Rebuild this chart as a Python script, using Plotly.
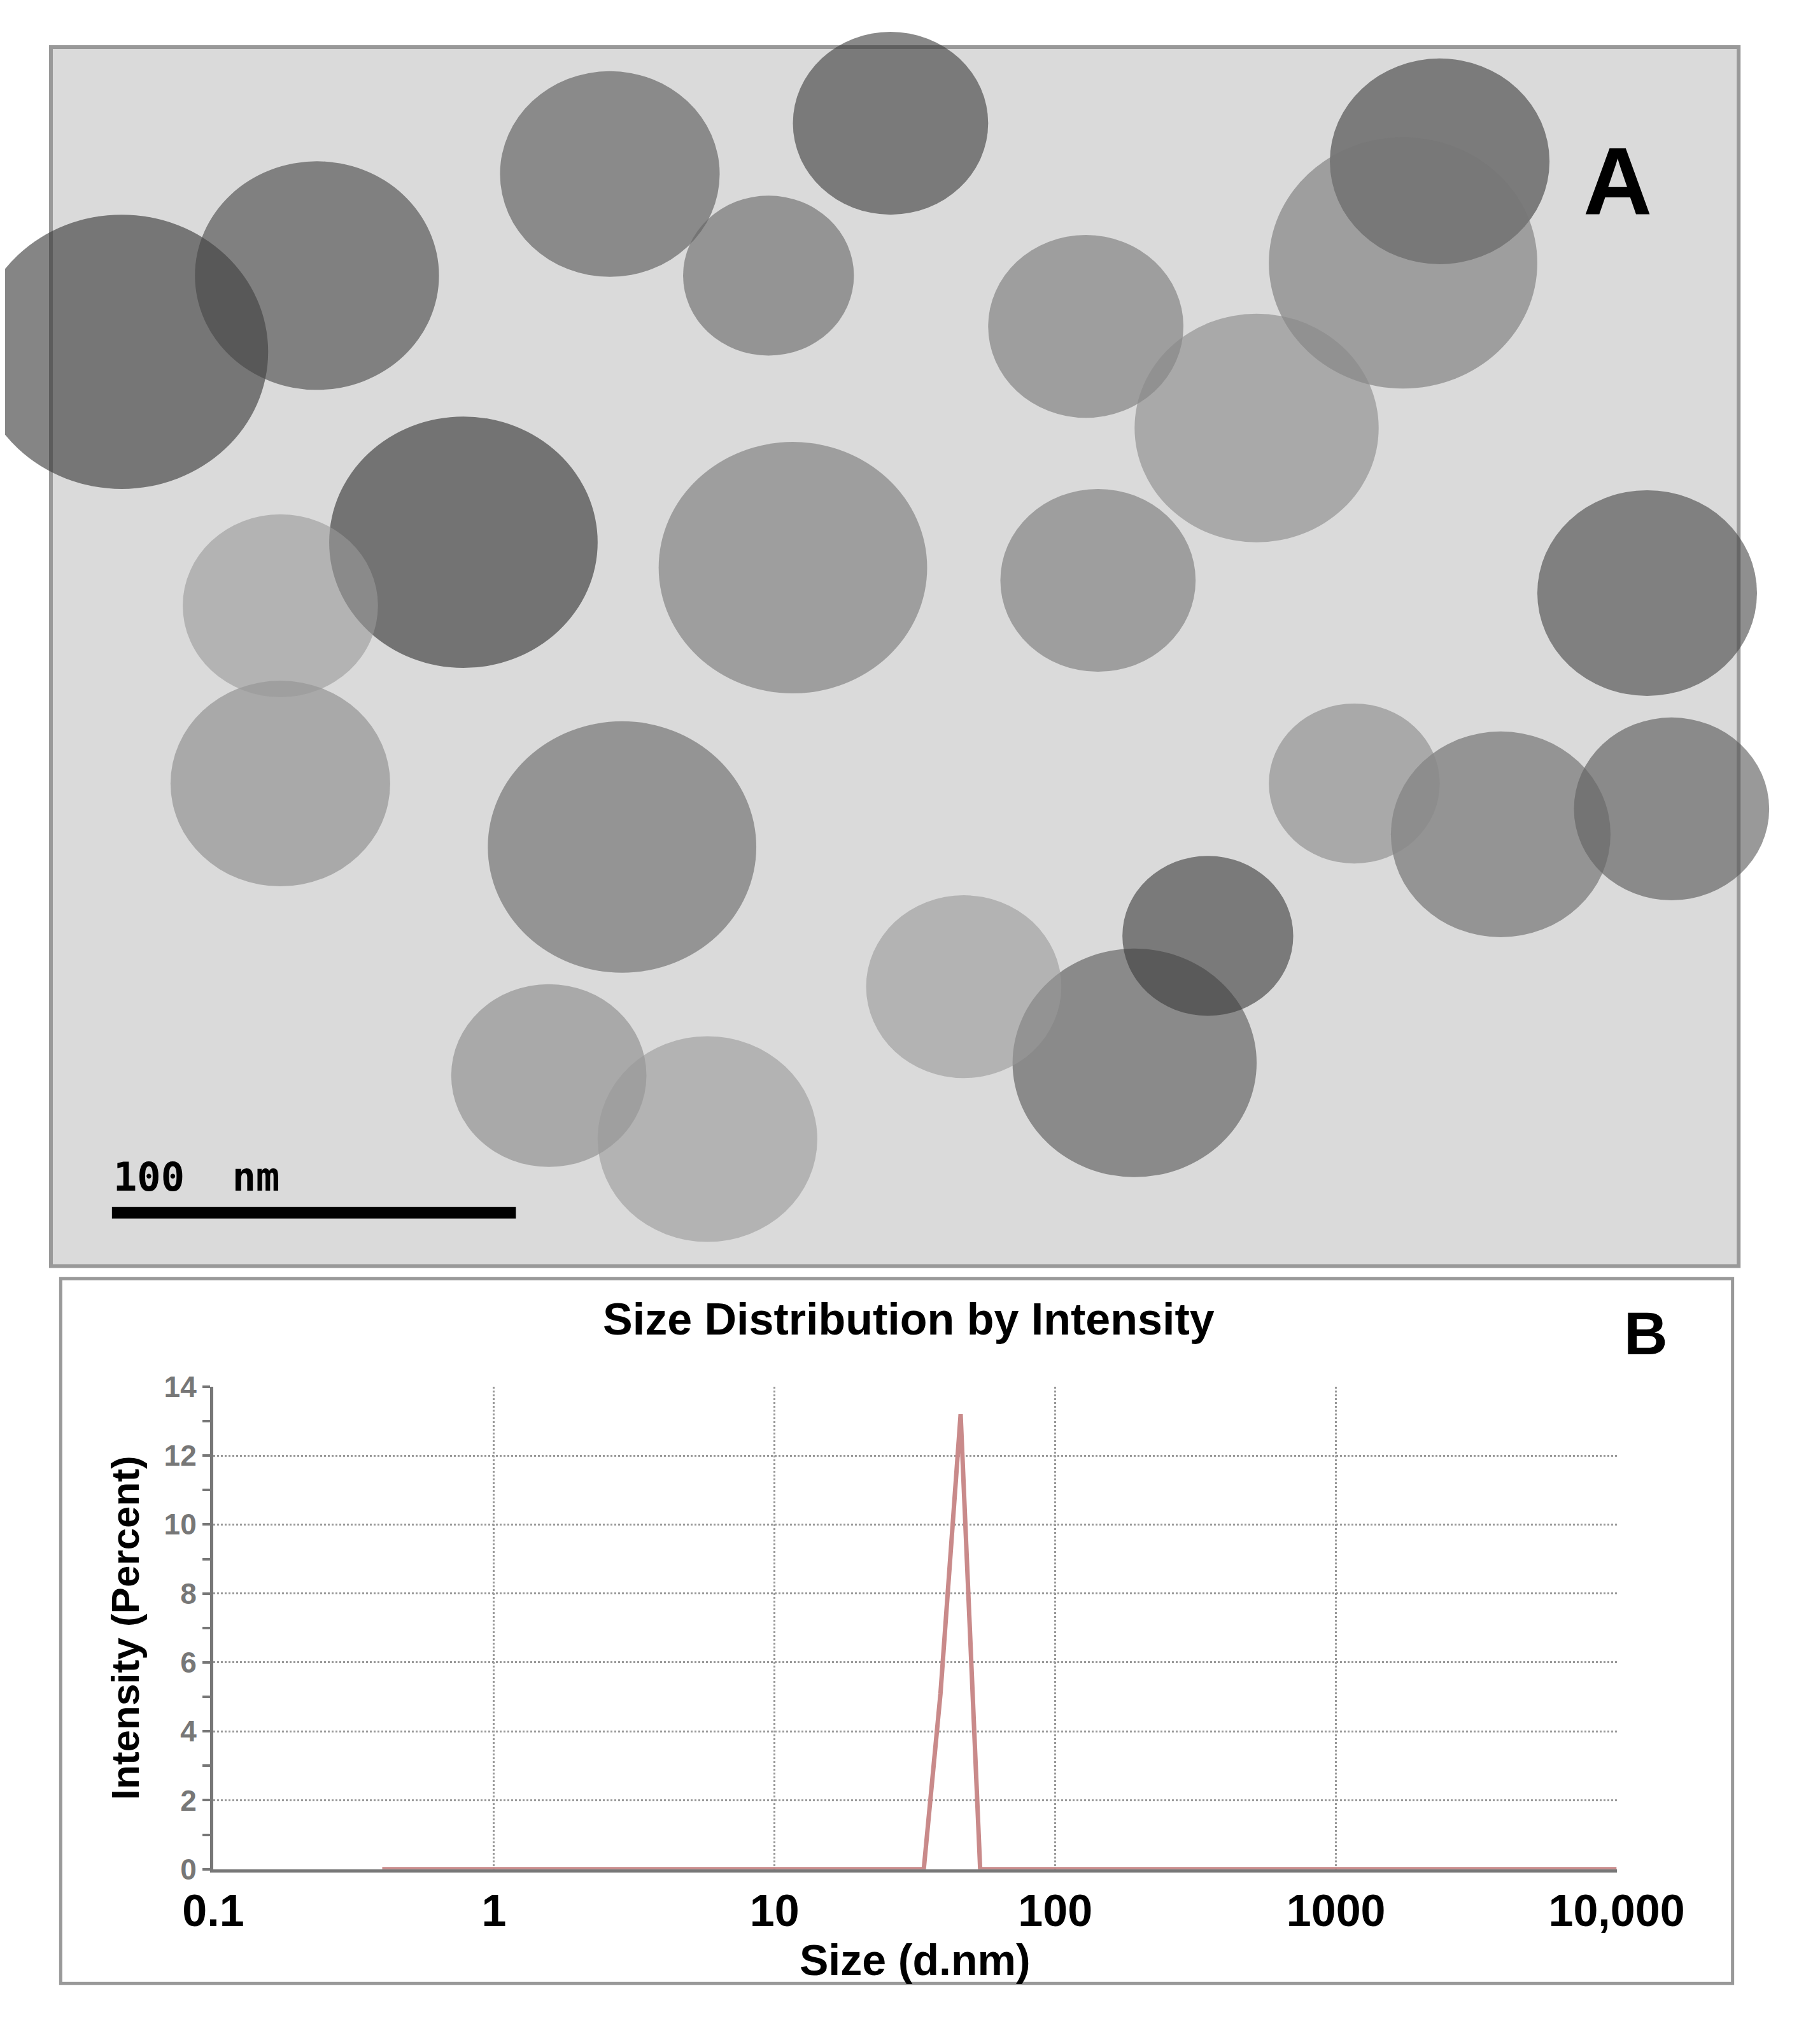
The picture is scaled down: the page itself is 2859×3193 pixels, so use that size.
import plotly.graph_objects as go

size_nm = [0.4, 1, 10, 34, 39, 46, 54, 100, 1000, 10000]
intensity = [0, 0, 0, 0, 5.1, 13.2, 0, 0, 0, 0]
x_tickvals = [0.1, 1, 10, 100, 1000, 10000]
x_ticktext = ["0.1", "1", "10", "100", "1000", "10,000"]
y_tickvals = [0, 2, 4, 6, 8, 10, 12, 14]

W, H = 2859, 3193
DW, DH = 1410, 1575
def X(p): return p / DW
def Y(p): return 1 - p / DH

fig = go.Figure()
fig.add_trace(go.Scatter(x=size_nm, y=intensity, mode="lines",
                         line=dict(color="#c98a8a", width=7), showlegend=False))

F = "Liberation Sans"
fig.update_layout(
    width=W, height=H, margin=dict(l=0, r=0, t=0, b=0),
    paper_bgcolor="white", plot_bgcolor="white",
    xaxis=dict(type="log", range=[-1, 4], domain=[X(145), X(1295)],
               tickvals=x_tickvals, ticktext=["<b>" + t + "</b>" for t in x_ticktext],
               tickfont=dict(family=F, size=70, color="black"),
               showgrid=True, gridcolor="#999", griddash="dot", gridwidth=3,
               showline=True, linecolor="#777", linewidth=5, zeroline=False,
               title=dict(text="<b>Size (d.nm)</b>", font=dict(family=F, size=68, color="black"), standoff=4),
               ticks=""),
    yaxis=dict(range=[0, 14], domain=[Y(1455), Y(1075)],
               tickvals=y_tickvals, ticktext=["<b>%d</b>" % v for v in y_tickvals],
               tickfont=dict(family=F, size=46, color="#777"),
               showgrid=True, gridcolor="#999", griddash="dot", gridwidth=3,
               showline=True, linecolor="#777", linewidth=5, zeroline=False,
               ticks="outside", ticklen=12, tickwidth=4, tickcolor="#777",
               minor=dict(dtick=1, ticks="outside", ticklen=12, tickwidth=4, tickcolor="#777"),
               title=dict(text="<b>Intensity (Percent)</b>", font=dict(family=F, size=62, color="black"), standoff=20)),
)

shapes = []
shapes.append(dict(type="rect", xref="paper", yref="paper", x0=X(12), x1=X(1395),
                   y0=Y(980), y1=Y(20), fillcolor="#dadada", line=dict(color="#999", width=6), layer="below"))
blobs = [(70, 260, 120, "#333"), (230, 200, 100, "#444"), (350, 410, 110, "#2e2e2e"),
         (470, 120, 90, "#555"), (700, 80, 80, "#3a3a3a"), (1150, 110, 90, "#3c3c3c"),
         (1120, 190, 110, "#777"), (620, 430, 110, "#777"), (860, 240, 80, "#777"),
         (1320, 450, 90, "#444"), (1340, 620, 80, "#555"), (480, 650, 110, "#666"),
         (900, 820, 100, "#555"), (960, 720, 70, "#3a3a3a"), (200, 600, 90, "#888"),
         (1200, 640, 90, "#666"), (420, 830, 80, "#888"), (870, 440, 80, "#777"),
         (1000, 320, 100, "#888"), (200, 460, 80, "#999"), (600, 200, 70, "#666"),
         (760, 760, 80, "#999"), (1080, 600, 70, "#888"), (550, 880, 90, "#999")]
for cx, cy, r, c in blobs:
    shapes.append(dict(type="circle", xref="paper", yref="paper", x0=X(cx - r), x1=X(cx + r),
                       y0=Y(cy + r * 0.9), y1=Y(cy - r * 0.9), fillcolor=c, opacity=0.6,
                       line=dict(width=0), layer="below"))
shapes.append(dict(type="line", xref="paper", yref="paper", x0=X(62), x1=X(393),
                   y0=Y(938), y1=Y(938), line=dict(color="black", width=18)))
shapes.append(dict(type="rect", xref="paper", yref="paper", x0=X(20), x1=X(1390),
                   y0=Y(1545), y1=Y(990), line=dict(color="#999", width=5), layer="below"))
fig.update_layout(shapes=shapes)

fig.add_annotation(x=X(1325), y=Y(82), xref="paper", yref="paper", text="<b>A</b>",
                   showarrow=False, font=dict(family=F, size=150, color="black"))
fig.add_annotation(x=X(62), y=Y(910), xref="paper", yref="paper", text="<b>100  nm</b>",
                   xanchor="left", showarrow=False, font=dict(family="DejaVu Sans Mono", size=62, color="black"))
fig.add_annotation(x=X(1338), y=Y(1033), xref="paper", yref="paper", text="<b>B</b>",
                   showarrow=False, font=dict(family=F, size=95, color="black"))
fig.add_annotation(x=X(715), y=Y(1022), xref="paper", yref="paper", text="<b>Size Distribution by Intensity</b>",
                   showarrow=False, font=dict(family=F, size=70, color="black"))

fig.write_html("out.html")
